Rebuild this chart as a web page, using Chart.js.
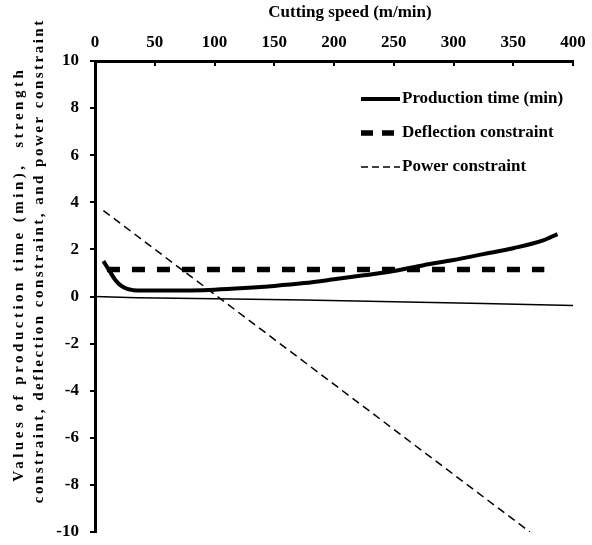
<!DOCTYPE html>
<html><head><meta charset="utf-8">
<script src="https://cdn.jsdelivr.net/npm/chart.js@4/dist/chart.umd.min.js"></script>
<style>html,body{margin:0;padding:0;background:#fff;} canvas{display:block;}</style>
</head><body>
<canvas id="c" width="592" height="545"></canvas>
<script>
// ---- data ----
const xTitle = 'Cutting speed (m/min)';
const yTitleLines = ['Values of production time (min),  strength', 'constraint, deflection constraint, and power constraint'];
const xTickValues = [0, 50, 100, 150, 200, 250, 300, 350, 400];
const yTickValues = [-10, -8, -6, -4, -2, 0, 2, 4, 6, 8, 10];
const seriesNames = ['Production time (min)', 'Deflection constraint', 'Power constraint', 'Strength constraint'];

const prodX = [7, 12, 17, 22, 27, 32, 40, 60, 80, 100, 125, 150, 175, 200, 225, 250, 275, 300, 325, 350, 375, 387];
const prodY = [1.5, 1.1, 0.7, 0.45, 0.32, 0.27, 0.25, 0.25, 0.26, 0.29, 0.36, 0.45, 0.57, 0.73, 0.9, 1.08, 1.33, 1.55, 1.8, 2.05, 2.38, 2.65];
const deflX = [10, 376];
const deflY = [1.15, 1.15];
const powerX = [7, 364];
const powerY = [3.65, -10];
const strX = [0, 35, 100, 175, 250, 325, 400];
const strY = [0.0, -0.05, -0.1, -0.15, -0.22, -0.3, -0.38];

const pts = (xs, ys) => xs.map((x, i) => ({x: x, y: ys[i]}));
const FONT = 'Liberation Serif';

const legendPlugin = {
  id: 'innerLegend',
  afterDatasetsDraw(chart) {
    const ctx = chart.ctx;
    const rows = [99, 133, 167];
    ctx.save();
    for (let i = 0; i < 3; i++) {
      const ds = chart.data.datasets[i];
      const y = rows[i];
      ctx.beginPath();
      ctx.strokeStyle = '#000';
      ctx.lineWidth = ds.borderWidth;
      ctx.setLineDash(i === 0 ? [] : (i === 1 ? [12, 9] : [7, 4]));
      ctx.moveTo(361, y);
      ctx.lineTo(400, y);
      ctx.stroke();
      ctx.setLineDash([]);
      ctx.fillStyle = '#000';
      ctx.font = 'bold 17px "' + FONT + '"';
      ctx.textAlign = 'left';
      ctx.textBaseline = 'middle';
      ctx.fillText(ds.label, 402, y);
    }
    ctx.restore();
  }
};

const titlePlugin = {
  id: 'titles',
  afterDraw(chart) {
    const ctx = chart.ctx;
    ctx.save();
    ctx.fillStyle = '#000';
    ctx.font = 'bold 17px "' + FONT + '"';
    ctx.textAlign = 'center';
    ctx.textBaseline = 'middle';
    ctx.fillText(xTitle, 350, 13);
    // y title (two rotated lines, letter-spaced)
    const specs = [{x: 19, cy: 276, len: 415}, {x: 39, cy: 262, len: 485}];
    ctx.font = 'bold 15px "' + FONT + '"';
    yTitleLines.forEach((t, i) => {
      const s = specs[i];
      ctx.letterSpacing = '0px';
      const w0 = ctx.measureText(t).width;
      const ls = Math.max(0, (s.len - w0) / t.length);
      ctx.letterSpacing = ls.toFixed(2) + 'px';
      ctx.save();
      ctx.translate(s.x, s.cy);
      ctx.rotate(-Math.PI / 2);
      ctx.fillText(t, ls / 2, 0);
      ctx.restore();
    });
    ctx.letterSpacing = '0px';
    // tick marks: inside on the top x axis, outside on the left y axis
    const xs = chart.scales.x, ys = chart.scales.y;
    const area = chart.chartArea;
    ctx.strokeStyle = '#000';
    ctx.lineWidth = 2;
    xTickValues.forEach(v => {
      if (v === 0) return;
      const px = Math.round(xs.getPixelForValue(v));
      ctx.beginPath();
      ctx.moveTo(px, area.top);
      ctx.lineTo(px, area.top + 5);
      ctx.stroke();
    });
    yTickValues.forEach(v => {
      const py = Math.round(ys.getPixelForValue(v));
      ctx.beginPath();
      ctx.moveTo(area.left, py);
      ctx.lineTo(area.left - 5, py);
      ctx.stroke();
    });
    ctx.restore();
  }
};

new Chart(document.getElementById('c'), {
  type: 'line',
  data: {
    datasets: [
      {label: seriesNames[0], data: pts(prodX, prodY), borderColor: '#000', borderWidth: 4, pointRadius: 0, tension: 0.4, cubicInterpolationMode: 'monotone', fill: false},
      {label: seriesNames[1], data: pts(deflX, deflY), borderColor: '#000', borderWidth: 5.5, borderDash: [13, 12], pointRadius: 0, fill: false},
      {label: seriesNames[2], data: pts(powerX, powerY), borderColor: '#000', borderWidth: 1.5, borderDash: [8, 5], pointRadius: 0, fill: false},
      {label: seriesNames[3], data: pts(strX, strY), borderColor: '#000', borderWidth: 1.5, pointRadius: 0, fill: false}
    ]
  },
  options: {
    responsive: false,
    animation: false,
    devicePixelRatio: 1,
    layout: {padding: {left: 0, top: 0, right: 19, bottom: 13}},
    plugins: {legend: {display: false}, tooltip: {enabled: false}},
    scales: {
      x: {
        type: 'linear', position: 'top', min: 0, max: 400,
        afterBuildTicks: s => { s.ticks = xTickValues.map(v => ({value: v})); },
        afterFit: s => { s.height = 61; s.paddingLeft = 0; s.paddingRight = 0; },
        grid: {display: false},
        border: {display: true, color: '#000', width: 3},
        ticks: {color: '#000', padding: 0, maxRotation: 0, font: {family: FONT, size: 17, weight: 'bold'}}
      },
      y: {
        type: 'linear', position: 'left', min: -10, max: 10,
        afterBuildTicks: s => { s.ticks = yTickValues.map(v => ({value: v})); },
        afterFit: s => { s.width = 95; s.paddingTop = 0; s.paddingBottom = 0; },
        grid: {display: false},
        border: {display: true, color: '#000', width: 3},
        ticks: {color: '#000', padding: 8, font: {family: FONT, size: 17, weight: 'bold'}}
      }
    }
  },
  plugins: [legendPlugin, titlePlugin]
});
</script>
</body></html>
